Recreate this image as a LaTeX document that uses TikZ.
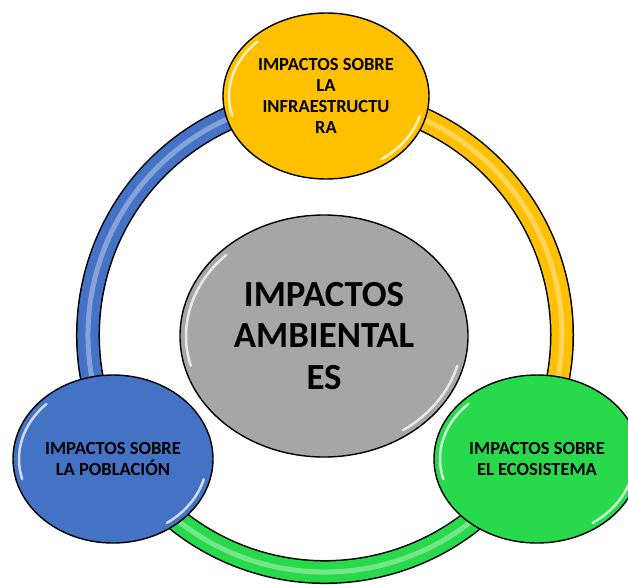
\documentclass[tikz,border=0pt]{standalone}
\usepackage{fontspec}
\setmainfont{Carlito}
\usetikzlibrary{shapes.geometric,calc,backgrounds}

\definecolor{ringyellow}{HTML}{FFC000}
\definecolor{ringblue}{HTML}{4472C4}
\definecolor{ringgreen}{HTML}{29D94C}
\definecolor{hubgray}{HTML}{A6A6A6}

\tikzset{
  bubble/.style={ellipse, draw=black, line width=1.4pt, align=center, inner sep=0pt,
                 font=\bfseries\fontsize{18.5}{21}\selectfont},
  tube/.style={line width=24pt, draw=black},
  tubefill/.style={line width=21pt, draw=#1},
  tubeshine/.style={line width=5pt, draw=white, opacity=.35},
  shine/.style={white, line width=2.5pt, opacity=.75, line cap=round}
}

% white glints on the rim of a bubble: node, x radius, y radius
\newcommand{\glint}[3]{%
  \draw[shine] ($(#1)+(165:{#2-6} and {#3-6})$)
    arc[start angle=165, end angle=225, x radius=#2-6, y radius=#3-6];
  \draw[shine] ($(#1)+(15:{#2-6} and {#3-6})$)
    arc[start angle=15, end angle=55, x radius=#2-6, y radius=#3-6];
}

\begin{document}
\begin{tikzpicture}[x=1pt, y=-1pt]
\useasboundingbox (0,0) rectangle (628,584);

\coordinate (ringc) at (325,335);

% hub and the three outer bubbles
\node[bubble, fill=hubgray, minimum width=288pt, minimum height=242pt,
      font=\bfseries\fontsize{36.8}{41.7}\selectfont] (hub) at (324,336)
      {IMPACTOS\\AMBIENTAL\\ES};
\node[bubble, fill=ringyellow, minimum width=206pt, minimum height=166pt] (infra) at (326,96)
      {IMPACTOS SOBRE\\LA\\INFRAESTRUCTU\\RA};
\node[bubble, fill=ringblue, minimum width=200pt, minimum height=168pt] (poblacion) at (113,459)
      {IMPACTOS SOBRE\\LA POBLACIÓN};
\node[bubble, fill=ringgreen, minimum width=206pt, minimum height=168pt] (ecosistema) at (537,459)
      {IMPACTOS SOBRE\\EL ECOSISTEMA};

\glint{hub}{144}{121}
\glint{infra}{103}{83}
\glint{poblacion}{100}{84}
\glint{ecosistema}{103}{84}

% ring pieces, behind the bubbles
\begin{scope}[on background layer]
  \foreach \col/\from/\to in {ringyellow/-90/30, ringgreen/30/150, ringblue/150/270} {
    \draw[tube] ([shift={(\from:237)}]ringc) arc[start angle=\from, end angle=\to, radius=237];
    \draw[tubefill=\col] ([shift={(\from:237)}]ringc) arc[start angle=\from, end angle=\to, radius=237];
    \draw[tubeshine] ([shift={(\from:237)}]ringc) arc[start angle=\from, end angle=\to, radius=237];
  }
\end{scope}
\end{tikzpicture}
\end{document}
